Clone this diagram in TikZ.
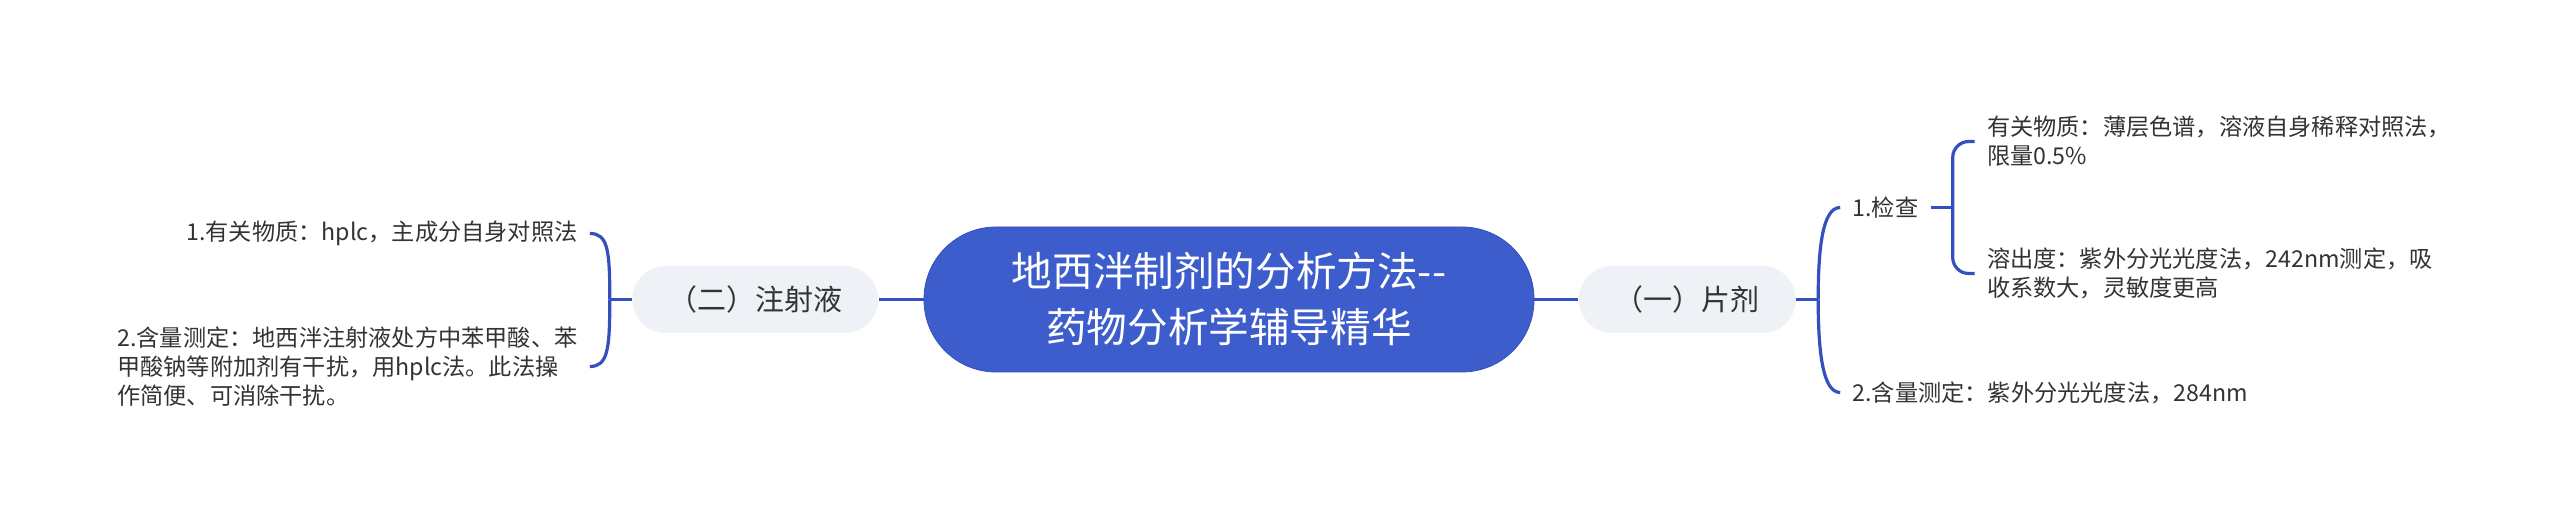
\documentclass[tikz,border=0pt]{standalone}
\usepackage{fontspec}
\setmainfont{Noto Sans CJK SC}
\usetikzlibrary{positioning}
\definecolor{rootblue}{HTML}{3D5DCC}
\definecolor{linkblue}{HTML}{3450BC}
\definecolor{pillgray}{HTML}{EEF1F5}
\definecolor{leaftext}{HTML}{333333}

\begin{document}
\begin{tikzpicture}[x=0.5pt, y=-0.5pt, node distance=11pt]
  \tikzstyle{root} = [draw=linkblue, fill=rootblue, text=white, rounded corners=36pt, minimum width=305pt, minimum height=72.5pt, align=center, font=\fontsize{20.3}{28}\selectfont]
  \tikzstyle{pill} = [fill=pillgray, text=leaftext, rounded corners=16.75pt, minimum height=33.5pt, inner xsep=18pt, font=\fontsize{14.5}{17}\selectfont]
  \tikzstyle{leaf} = [text=leaftext, inner xsep=6pt, inner ysep=2pt, align=left, font=\fontsize{11.6}{14.6}\selectfont]
  \tikzstyle{link} = [draw=linkblue, line width=1.6pt]
  \tikzstyle{tmp} = [coordinate]
  \useasboundingbox (0,0) rectangle (2560,522);

  \node [root] (root) at (1229,299.5) {地西泮制剂的分析方法-{}-\\药物分析学辅导精华};
  \node [pill, right=22pt of root] (tablet) {（一）片剂};
  \node [pill, left=22.5pt of root] (inject) {（二）注射液};

  \node [tmp, right=of tablet] (jT) {};
  \node [leaf, right=of jT, yshift=46pt] (check) {1.检查};
  \node [leaf, right=of jT, yshift=-46.5pt] (assayT) {2.含量测定：紫外分光光度法，284nm};
  \node [tmp, right=of check] (jC) {};
  \node [leaf, right=of jC, yshift=33pt] (related) {有关物质：薄层色谱，溶液自身稀释对照法，\\限量0.5\%};
  \node [leaf, right=of jC, yshift=-33pt] (dissol) {溶出度：紫外分光光度法，242nm测定，吸\\收系数大，灵敏度更高};

  \node [tmp, left=of inject] (jI) {};
  \node [leaf, left=10pt of jI, yshift=33pt] (relatedI) {1.有关物质：hplc，主成分自身对照法};
  \node [leaf, left=10pt of jI, yshift=-33.5pt] (assayI) {2.含量测定：地西泮注射液处方中苯甲酸、苯\\甲酸钠等附加剂有干扰，用hplc法。此法操\\作简便、可消除干扰。};

  \draw [link] (root) -- (tablet);
  \draw [link] (root) -- (inject);
  \draw [link] (tablet) -- (jT);
  \draw [link] (check.west) .. controls +(-9pt,0) and +(0,25pt) .. (jT);
  \draw [link] (assayT.west) .. controls +(-9pt,0) and +(0,-25pt) .. (jT);
  \draw [link] (check) -- (jC);
  \draw [link, rounded corners=8pt] (related.west) -| (jC) |- (dissol.west);
  \draw [link] (inject) -- (jI);
  \draw [link] (relatedI.east) .. controls +(9pt,0) and +(0,25pt) .. (jI);
  \draw [link] (assayI.east) .. controls +(9pt,0) and +(0,-25pt) .. (jI);
\end{tikzpicture}
\end{document}
